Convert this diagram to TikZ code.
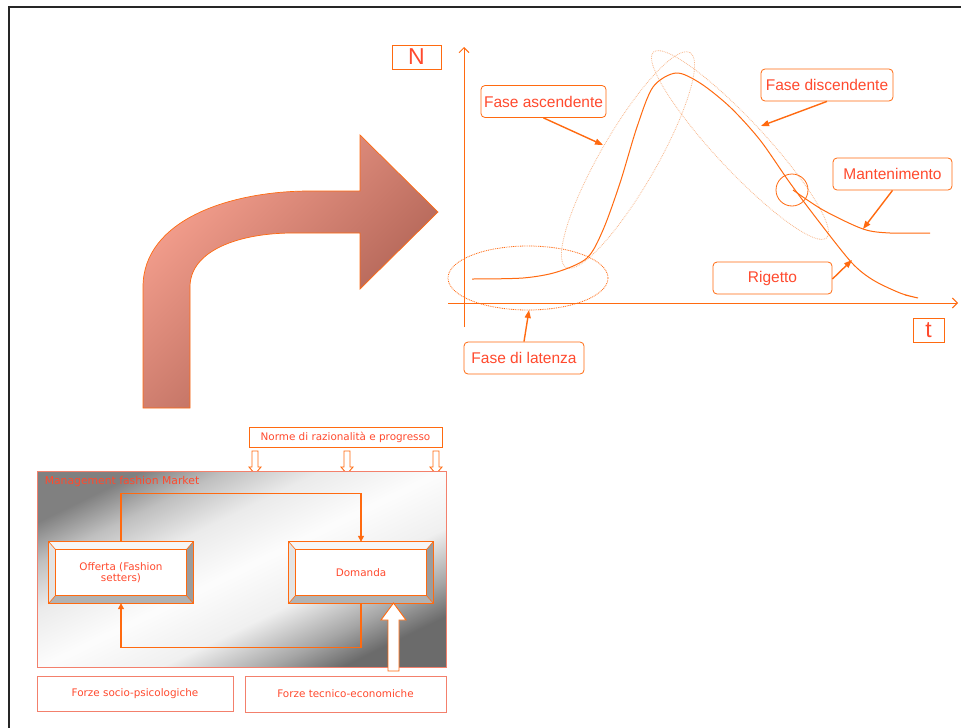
\documentclass[tikz,border=0pt]{standalone}
\usepackage{fontspec}
\setmainfont{Liberation Sans}
\newfontfamily\smallfont{DejaVu Sans}
\usetikzlibrary{arrows.meta,calc}

\definecolor{lineorange}{HTML}{FF6A10}
\definecolor{labelred}{HTML}{FF4A2E}
\definecolor{dotorange}{HTML}{F9B88C}
\definecolor{boxpink}{HTML}{F3806C}
\definecolor{arrowlight}{HTML}{F09B8A}
\definecolor{arrowdark}{HTML}{A2574A}
\definecolor{bevelhi}{HTML}{F6F6F6}
\definecolor{bevelside}{HTML}{E4E4E4}
\definecolor{bevelshadow}{HTML}{9C9C9C}
\definecolor{bevellow}{HTML}{B2B2B2}

\pgfdeclarehorizontalshading{arrowfade}{100bp}{color(0bp)=(arrowlight); color(30bp)=(arrowlight); color(75bp)=(arrowdark); color(100bp)=(arrowdark)}
\pgfdeclarehorizontalshading{marketfade}{100bp}{color(0bp)=(black!50); color(25bp)=(black!50); color(32bp)=(black!25); color(40bp)=(black!8); color(50bp)=(black!1); color(60bp)=(black!6); color(69bp)=(black!35); color(75bp)=(black!58); color(100bp)=(black!58)}

\tikzset{
  phase/.style={draw=lineorange, rounded corners=4pt, text=labelred, line width=0.8pt,
    font=\fontsize{15.5}{18}\selectfont, minimum height=32, inner sep=1.5pt},
  axisname/.style={draw=lineorange, text=labelred, line width=0.8pt,
    font=\fontsize{23}{26}\selectfont, minimum height=24, inner sep=0pt},
  pointer/.style={lineorange, line width=1.4pt, -{Triangle[length=8pt,width=6pt]}},
  axisline/.style={lineorange, line width=1pt, -{Straight Barb[length=5pt,width=10pt]}},
  lightdot/.style={dotorange, line width=0.8pt, dash pattern=on 0.8pt off 1pt},
  smalltext/.style={text=labelred, font=\smallfont\fontsize{10.4}{12.5}\selectfont},
  forcebox/.style={smalltext, draw=boxpink, line width=0.9pt, inner sep=0pt},
  bevelbox/.style={smalltext, fill=white, minimum width=144, minimum height=61, align=center, inner sep=0pt},
  flow/.style={lineorange, line width=1.2pt, -{Triangle[length=6pt,width=6pt]}},
  hollowarrow/.style={draw=lineorange, fill=white, line width=0.9pt},
}

% bevelled frame round a node
\newcommand{\bevelframe}[1]{%
  \fill[bevelhi] (#1.north west) -- (#1.north east) -- ([shift={(-7,8)}]#1.north east) -- ([shift={(7,8)}]#1.north west) -- cycle;
  \fill[bevelside] (#1.north west) -- ([shift={(7,8)}]#1.north west) -- ([shift={(7,-8)}]#1.south west) -- (#1.south west) -- cycle;
  \fill[bevelshadow] (#1.north east) -- ([shift={(-7,8)}]#1.north east) -- ([shift={(-7,-8)}]#1.south east) -- (#1.south east) -- cycle;
  \fill[bevellow] (#1.south west) -- ([shift={(7,-8)}]#1.south west) -- ([shift={(-7,-8)}]#1.south east) -- (#1.south east) -- cycle;
  \draw[lineorange, line width=0.8pt] (#1.north west) rectangle (#1.south east);
  \draw[lineorange, line width=0.8pt] ([shift={(7,8)}]#1.north west) rectangle ([shift={(-7,-8)}]#1.south east);
  \draw[lineorange, line width=0.6pt] (#1.north west) -- ([shift={(7,8)}]#1.north west)
    (#1.north east) -- ([shift={(-7,8)}]#1.north east)
    (#1.south west) -- ([shift={(7,-8)}]#1.south west)
    (#1.south east) -- ([shift={(-7,-8)}]#1.south east);
}

\begin{document}
\begin{tikzpicture}[x=1pt,y=-1pt]
  \useasboundingbox (0,0) rectangle (961,728);
  \fill[white] (0,0) rectangle (961,728);
  \draw[black!85, line width=1.8pt] (9,728) -- (9,7) -- (961,7);

  % big bent arrow
  \shade[shading=arrowfade, shading angle=-45, draw=lineorange, line width=0.7pt]
    (143,408) -- (143,287) .. controls (143,220) and (230,191) .. (310,191)
    -- (360,191) -- (360,135) -- (438,212) -- (360,289) -- (360,233) -- (293,233)
    .. controls (240,233) and (190,250) .. (190,287) -- (190,408) -- cycle;

  % axes
  \draw[axisline] (464,327) -- (464,47);
  \draw[axisline] (448,303) -- (958,303);
  \node[axisname, minimum width=49] (nlabel) at (416.5,57) {N};
  \node[axisname, minimum width=31] (tlabel) at (928.5,330) {t};

  % phase regions
  \draw[lightdot] (628,160) ellipse [x radius=124, y radius=28, rotate=60];
  \draw[lightdot] (740,145) ellipse [x radius=127, y radius=25, rotate=-47];
  \draw[lineorange, line width=0.8pt, dash pattern=on 0.9pt off 0.9pt] (528,278) ellipse [x radius=80, y radius=32];
  \draw[lineorange, line width=0.8pt] (792,190) circle [radius=16];

  % life cycle curve
  \draw[lineorange, line width=1pt] plot[smooth, tension=0.5] coordinates {
    (472,279) (523,278) (557,272) (587,258) (603,230) (620,183) (637,127)
    (653,87) (676,73) (700,83) (730,107) (760,140) (790,183) (820,223)
    (852,263) (873,280) (900,293) (918,298) (905,295)};
  \draw[lineorange, line width=1pt] plot[smooth, tension=0.5] coordinates {
    (793,190) (823,210) (863,229) (890,233) (930,233)};

  % phase labels
  \node[phase, minimum width=125] (ascent) at (543.5,101.5) {Fase ascendente};
  \node[phase, minimum width=132] (descent) at (827,85) {Fase discendente};
  \node[phase, minimum width=119] (keep) at (892.5,174) {Mantenimento};
  \node[phase, minimum width=119] (reject) at (772.5,278) {Rigetto};
  \node[phase, minimum width=120] (latency) at (524,358) {Fase di latenza};

  \coordinate (ascentpt) at (603,145);
  \coordinate (descentpt) at (761,126);
  \coordinate (keeppt) at (863,229);
  \coordinate (rejectpt) at (852,260);
  \coordinate (latencypt) at (529,310);
  \draw[pointer] (ascent.south) -- (ascentpt);
  \draw[pointer] (descent.south) -- (descentpt);
  \draw[pointer] (keep.south) -- (keeppt);
  \draw[pointer] ([yshift=-1]reject.east) -- (rejectpt);
  \draw[pointer] (latency.north) -- (latencypt);

  % fashion market scheme
  \node[forcebox, minimum width=193, minimum height=20, draw=lineorange] (norms) at (345.5,437) {Norme di razionalità e progresso};
  \foreach \ax in {255,347,436}
    \draw[hollowarrow] (\ax-3,451) -- (\ax+3,451) -- (\ax+3,467) -- (\ax+6,467)
      -- (\ax,474) -- (\ax-6,467) -- (\ax-3,467) -- cycle;

  \node[shade, shading=marketfade, shading angle=-64, draw=boxpink, line width=0.9pt,
    minimum width=409, minimum height=196, inner sep=0pt] (market) at (241.5,569) {};
  \node[smalltext, anchor=north west, inner sep=0pt, font=\smallfont\fontsize{10.8}{13}\selectfont] (marketname) at ([shift={(8,6)}]market.north west) {Management fashion Market};

  \node[bevelbox] (supply) at (121,572.5) {Offerta (Fashion\\[-1pt]setters)};
  \node[bevelbox] (demand) at (361,572.5) {Domanda};
  \bevelframe{supply}
  \bevelframe{demand}

  \draw[flow] (supply.north) -- ++(0,-48) -| (demand.north);
  \draw[flow] (demand.south) -- ++(0,44) -| (supply.south);

  \draw[hollowarrow] (388,671) -- (388,620) -- (381,620) -- (393.5,603)
    -- (406,620) -- (399,620) -- (399,671) -- cycle;

  \node[forcebox, minimum width=196, minimum height=35] (socio) at (135,693.5) {Forze socio-psicologiche};
  \node[forcebox, minimum width=201, minimum height=36] (techno) at (345.5,694) {Forze tecnico-economiche};
\end{tikzpicture}
\end{document}
